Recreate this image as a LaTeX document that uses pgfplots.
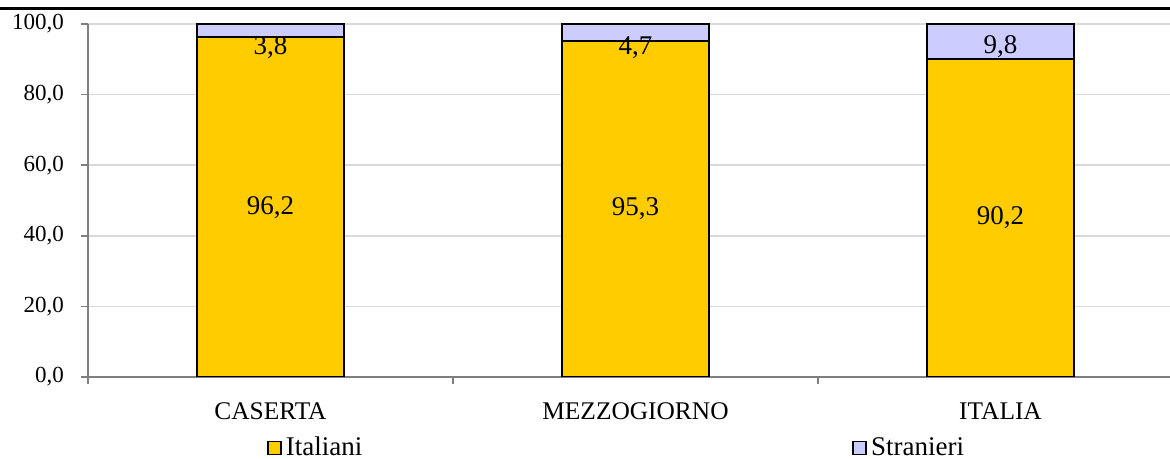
\documentclass[border=0pt]{standalone}
\usepackage{fontspec}
\setmainfont{Liberation Serif}
\usepackage{pgfplots}
\pgfplotsset{compat=1.18}

\definecolor{italiani}{HTML}{FFCC00}
\definecolor{stranieri}{HTML}{CCCCFF}
\definecolor{gridgray}{HTML}{D9D9D9}
\definecolor{axisgray}{HTML}{7F7F7F}

% shared geometry of the plot area (both axes use it)
\pgfplotsset{
  plotframe/.style={
    scale only axis, width=541pt, height=176.5pt,
    xmin=-0.5, xmax=2.4644, ymin=0, ymax=100,
    at={(0pt,0pt)}, anchor=south west,
  },
  commafmt/.style={
    /pgf/number format/.cd, fixed, fixed zerofill, precision=1,
    use comma, assume math mode=true,
  },
}

\begin{document}
\begin{tikzpicture}
\useasboundingbox (-44pt,-41pt) rectangle (541pt,188.5pt);
% heading rule
\draw[line width=1.5pt] (-44pt,184.0pt) -- (541pt,184.0pt);

\begin{axis}[plotframe, commafmt,
  ybar stacked, bar width=73.5pt,
  axis x line=bottom, axis y line=left,
  axis line style={axisgray, -, line width=0.8pt},
  tick style={axisgray, line width=0.8pt},
  tick align=outside,
  major tick length=3.5pt,
  ytick={0,20,40,60,80,100},
  ymajorgrids, grid style={gridgray, line width=0.8pt},
  yticklabel style={font=\fontsize{11.5}{13}\selectfont, text=black, xshift=-5pt},
  xtick={-0.5,0.5,1.5}, xticklabels={},
  extra x ticks={0,1,2},
  extra x tick labels={CASERTA,MEZZOGIORNO,ITALIA},
  extra x tick style={major tick length=0pt, grid=none,
    xticklabel style={font=\fontsize{12.7}{15}\selectfont, text=black, yshift=-9.5pt}},
  legend columns=2,
  legend style={draw=none, fill=none, at={(0.1654,-0.201)}, anchor=west,
    inner sep=0pt, font=\fontsize{13.5}{15}\selectfont,
    /tikz/every even column/.append style={column sep=243pt}},
  legend image code/.code={%
    \draw[#1, draw=black, line width=0.8pt] (0pt,-3.25pt) rectangle (6.5pt,3.25pt);},
]
\addplot[fill=italiani, draw=black, line width=1pt]
  coordinates {(0,96.2) (1,95.3) (2,90.2)};
\addlegendentry{Italiani}
\addplot[fill=stranieri, draw=black, line width=1pt]
  coordinates {(0,3.8) (1,4.7) (2,9.8)};
\addlegendentry{Stranieri}
\end{axis}

% value labels on the segments
\begin{axis}[plotframe, commafmt, hide axis,
  point meta=explicit,
  nodes near coords,
  every node near coord/.append style={anchor=center, text=black,
    font=\fontsize{13.5}{15}\selectfont},
]
\addplot[only marks, mark=none, nodes near coords] coordinates {
  (0,48.1)[96.2] (1,47.65)[95.3] (2,45.1)[90.2]
  (0,93.2)[3.8] (1,93.2)[4.7] (2,93.6)[9.8]
};
\end{axis}
\end{tikzpicture}
\end{document}
